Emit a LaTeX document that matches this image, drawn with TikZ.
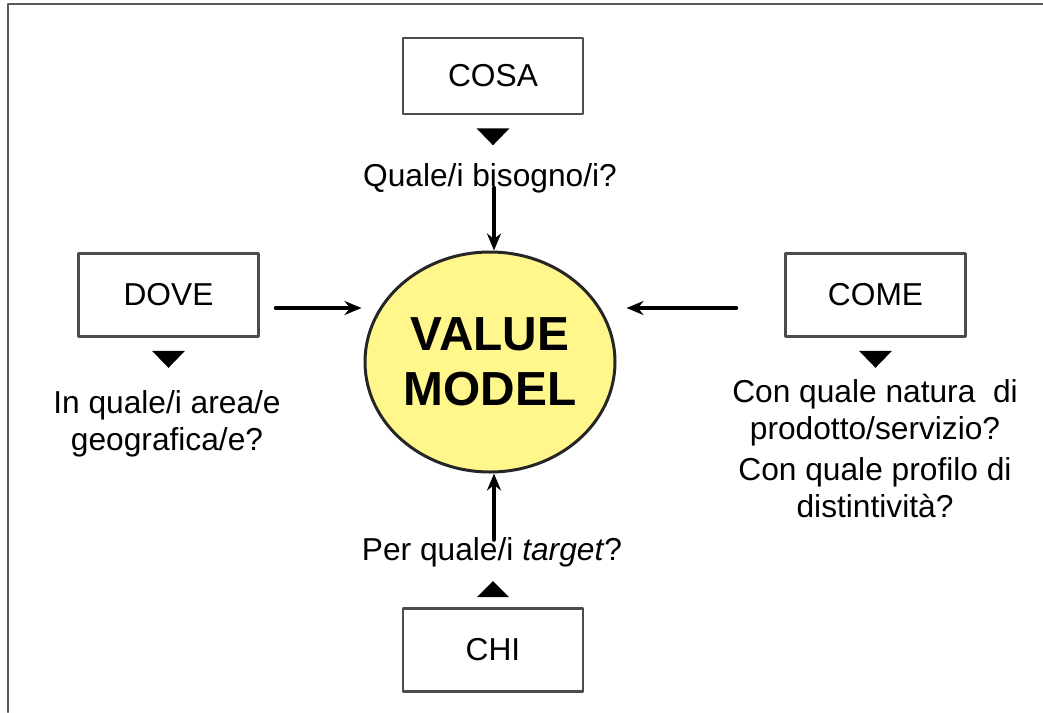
\documentclass[tikz,border=0pt]{standalone}
\usepackage{fontspec}
\setmainfont{Liberation Sans}
\usepackage{xcolor}
\usepackage{tikz}
\usetikzlibrary{positioning,shapes.geometric,arrows.meta}

\definecolor{vmyellow}{RGB}{255,246,140}

\begin{document}
\begin{tikzpicture}[x=1pt,y=-1pt, line cap=round, line join=round,
	every node/.style={font=\fontsize{31.7}{37}\selectfont},
	box/.style={draw=black!70, line width=2.6pt, minimum width=180pt, minimum height=83pt, inner sep=0pt},
	ask/.style={align=center, inner sep=0pt, anchor=base},
	arr/.style={-{Stealth[length=17pt,width=14pt]}, line width=4pt}]
				\useasboundingbox (0,0) rectangle (1043,712);
				% ===== cornice =====
				\draw[black!65, line width=2.6pt] (8,712) -- (8,4) -- (1043,4);
				
				% ===== ellisse centrale =====
				\node[ellipse, draw=black!85, line width=3pt, fill=vmyellow, minimum width=250pt, minimum height=220pt,
					inner sep=0pt, align=center, font=\fontsize{47.8}{55}\selectfont\bfseries] (vm) at (490,362) {VALUE\\MODEL};
				
				% ===== i quattro riquadri =====
				\node[box, minimum height=76pt] (cosa) at (493,76) {COSA};
				\node[box] (dove) at (168.5,295) {DOVE};
				\node[box] (come) at (875.5,295) {COME};
				\node[box] (chi) at (493,650) {CHI};
				
				% ===== domande (ancora = ultima riga) =====
				\node[ask] (qcosa) at (490,186) {Quale/i bisogno/i?};
				\node[ask] (qdove) at (167,450) {In quale/i area/e\\geografica/e?};
				\node[ask] (qcome) at (875,517) {Con quale natura\ \ di\\prodotto/servizio?\\[4pt]Con quale profilo di\\distintività?};
				\node[ask] (qchi) at (492,560) {Per quale/i \textit{target}?};
				
				% ===== triangoli =====
				\foreach \b in {cosa,dove,come}{
					\fill ([yshift=-13pt]\b.south) ++(-16.5,0) -- ++(33,0) -- ++(-16.5,17) -- cycle;
				}
				\fill ([yshift=10pt]chi.north) ++(-16,0) -- ++(32,0) -- ++(-16,-16) -- cycle;
				
				% ===== frecce =====
				\draw[arr] ([xshift=4pt,yshift=5pt]vm.north |- qcosa.south) -- ([xshift=4pt]vm.north);
				\draw[arr] ([xshift=4pt,yshift=-3pt]vm.south |- qchi.north) -- ([xshift=4pt]vm.south);
				\draw[arr, shorten >=18pt] ([xshift=16pt,yshift=-13pt]dove.east) -- ([xshift=16pt,yshift=-13pt]dove.east -| vm.west);
				\draw[arr, shorten >=58pt] ([xshift=-48pt,yshift=-13pt]come.west) -- ([xshift=-48pt,yshift=-13pt]come.west -| vm.east);
			\end{tikzpicture}
\end{document}
